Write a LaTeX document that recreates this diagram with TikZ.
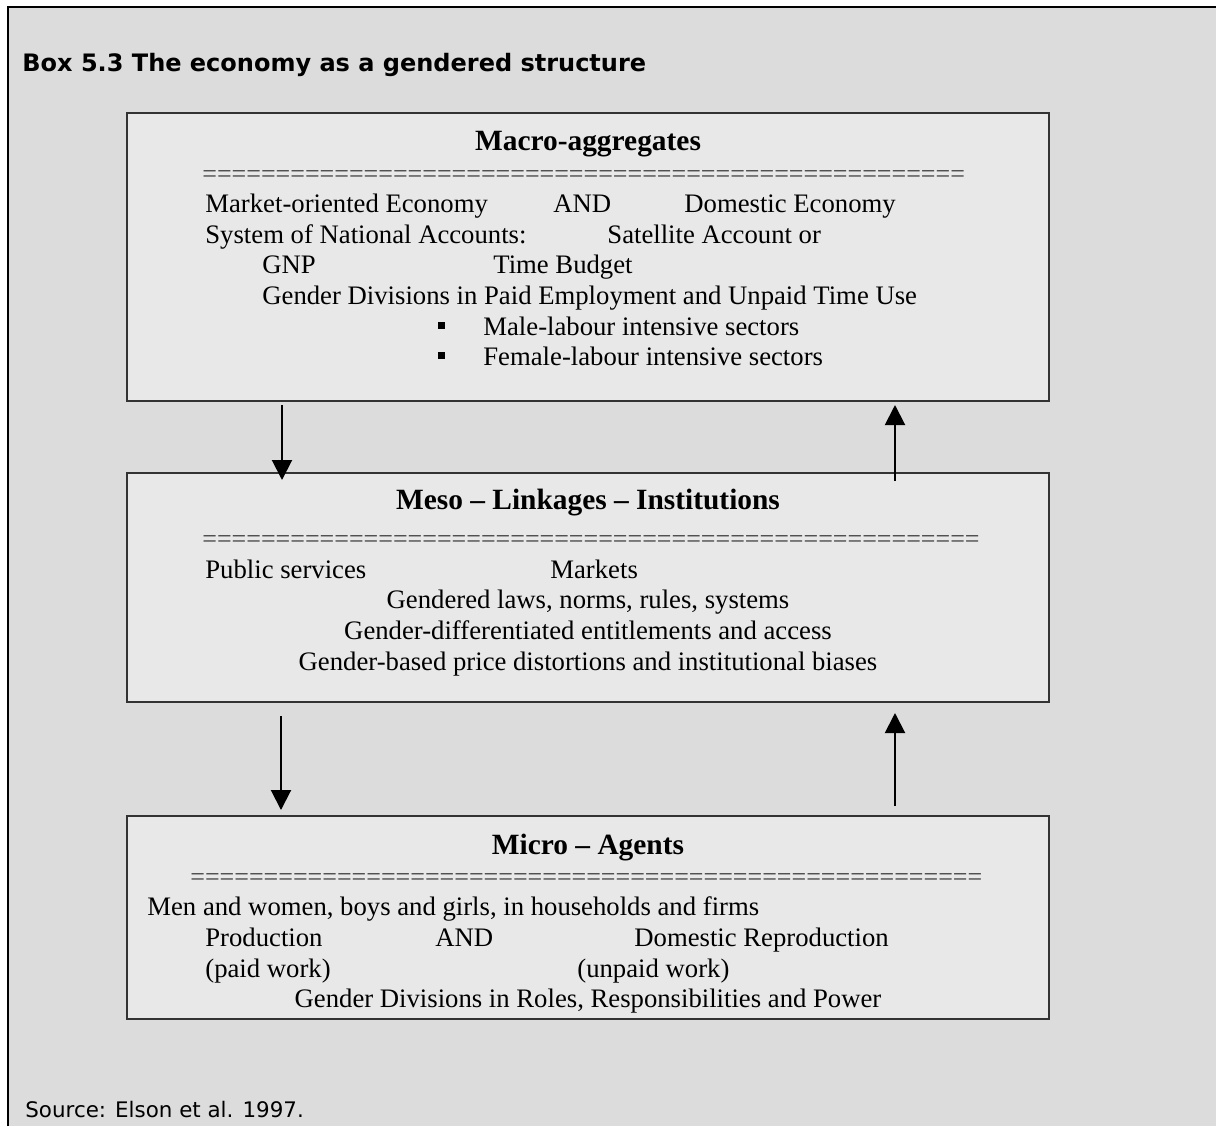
\documentclass[tikz,border=0pt]{standalone}
\usepackage{fontspec}
\setmainfont{Liberation Serif}
\newfontfamily\boxsans{DejaVu Sans}
\usepackage{tikz}
\usetikzlibrary{arrows.meta, positioning, calc}

\definecolor{pagegray}{gray}{0.863}
\definecolor{panelgray}{gray}{0.91}
\newcommand{\bodyfont}{\fontsize{13.35}{15}\selectfont}
\newcommand{\eqfont}{\fontsize{13}{15}\selectfont}
\newcommand{\headfont}{\fontsize{14.7}{17}\selectfont\bfseries}
\newcommand{\eqrow}[1]{\foreach \k in {1,...,#1}{=}}

\tikzset{
  panel/.style={draw=black!80, line width=1pt, fill=panelgray, inner sep=0pt},
  txt/.style={anchor=base west, font=\bodyfont, inner sep=0pt},
  ctr/.style={anchor=base, font=\bodyfont, inner sep=0pt},
  head/.style={anchor=base, font=\headfont, inner sep=0pt},
  eqline/.style={anchor=base west, font=\eqfont, text=black!75, inner sep=0pt},
  sq/.style={fill=black, minimum size=3.5pt, inner sep=0pt},
  flow/.style={line width=1pt, -{Triangle[length=10pt,width=10pt]}}
}

\begin{document}
\begin{tikzpicture}[x=0.5pt,y=-0.5pt]
      \useasboundingbox (0,0) rectangle (1216,1126);
      % Page frame
      \fill[white] (0,0) rectangle (1216,1126);
      \fill[pagegray] (8,7) rectangle (1216,1126);
      \draw[line width=1pt] (8,1126) -- (8,7) -- (1216,7);
      \node[anchor=base west, inner sep=0pt, font=\boxsans\fontsize{12}{14}\selectfont\bfseries] (title) at (22,71) {Box 5.3 The economy as a gendered structure};

      % Panels
      \node[panel, minimum width=461pt, minimum height=144pt] (macro) at (588,257) {};
      \node[panel, minimum width=461pt, minimum height=114.5pt] (meso) at (588,587.5) {};
      \node[panel, minimum width=461pt, minimum height=101.5pt] (micro) at (588,917.5) {};

      % Macro panel
      \node[head] (macrohead) at (588,150) {Macro-aggregates};
      \node[eqline] (macroeq) at (202,182) {\eqrow{52}};
      \node[txt] (m1a) at (205,212) {Market-oriented Economy};
      \node[txt] (m1b) at (553,212) {AND};
      \node[txt] (m1c) at (684,212) {Domestic Economy};
      \node[txt] (m2a) at (205,243) {System of National Accounts:};
      \node[txt] (m2b) at (607,243) {Satellite Account or};
      \node[txt] (m3a) at (262,273) {GNP};
      \node[txt] (m3b) at (493,273) {Time Budget};
      \node[txt] (m4) at (262,304) {Gender Divisions in Paid Employment and Unpaid Time Use};
      \node[sq] (b1) at (441,325) {};
      \node[txt] (m5) at (483,335) {Male-labour intensive sectors};
      \node[sq] (b2) at (441,355) {};
      \node[txt] (m6) at (483,365) {Female-labour intensive sectors};

      % Meso panel
      \node[head] (mesohead) at (588,509) {Meso -- Linkages -- Institutions};
      \node[eqline] (mesoeq) at (202,547) {\eqrow{53}};
      \node[txt] (s1a) at (205,578) {Public services};
      \node[txt] (s1b) at (550,578) {Markets};
      \node[ctr] (s2) at (588,608) {Gendered laws, norms, rules, systems};
      \node[ctr] (s3) at (588,639) {Gender-differentiated entitlements and access};
      \node[ctr] (s4) at (588,670) {Gender-based price distortions and institutional biases};

      % Micro panel
      \node[head] (microhead) at (588,854) {Micro -- Agents};
      \node[eqline] (microeq) at (190,885) {\eqrow{54}};
      \node[txt] (a1) at (147,915) {Men and women, boys and girls, in households and firms};
      \node[txt] (a2a) at (205,946) {Production};
      \node[txt] (a2b) at (435,946) {AND};
      \node[txt] (a2c) at (634,946) {Domestic Reproduction};
      \node[txt] (a3a) at (205,977) {(paid work)};
      \node[txt] (a3b) at (577,977) {(unpaid work)};
      \node[ctr] (a4) at (588,1007) {Gender Divisions in Roles, Responsibilities and Power};

      % Arrows between levels
      \draw[flow] ([xshift=-153pt,yshift=-1.5pt]macro.south) -- ([xshift=-153pt,yshift=-4pt]meso.north);
      \draw[flow] ([xshift=153.5pt,yshift=-4.5pt]meso.north) -- ([xshift=153.5pt,yshift=-1.5pt]macro.south);
      \draw[flow] ([xshift=-153.5pt,yshift=-6.5pt]meso.south) -- ([xshift=-153.5pt,yshift=2.5pt]micro.north);
      \draw[flow] ([xshift=153.5pt,yshift=4.5pt]micro.north) -- ([xshift=153.5pt,yshift=-5pt]meso.south);

      \node[anchor=base west, inner sep=0pt, font=\boxsans\fontsize{10.7}{12}\selectfont] (source) at (25,1117) {Source: Elson et al. 1997.};
    \end{tikzpicture}
\end{document}
